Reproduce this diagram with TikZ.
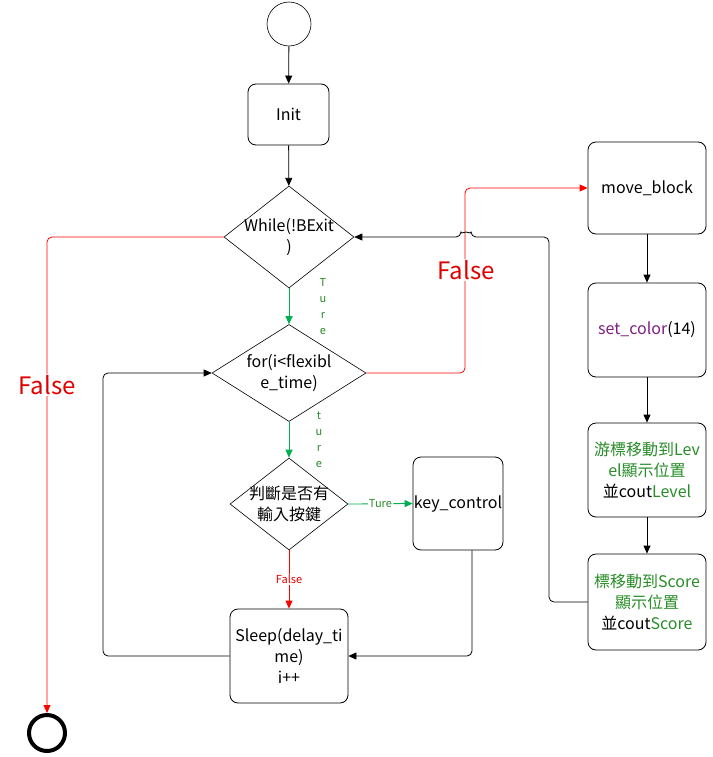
\documentclass[tikz,border=0pt]{standalone}
\usepackage{fontspec}
\setmainfont{Noto Sans CJK TC}
\usetikzlibrary{shapes.geometric,arrows.meta,calc}
\definecolor{lgreen}{RGB}{0,176,80}
\definecolor{tgreen}{RGB}{40,140,40}
\definecolor{lred}{RGB}{255,0,0}
\definecolor{tred}{RGB}{225,0,0}
\definecolor{tpurple}{RGB}{128,30,128}
\begin{document}
\begin{tikzpicture}[x=1pt,y=1pt,
  every node/.style={font=\fontsize{16}{21}\selectfont},
  box/.style={draw, rounded corners=8pt, line width=0.8pt, inner sep=0pt, align=center},
  dia/.style={draw, diamond, line width=0.6pt, inner sep=0pt},
  conn/.style={line width=0.8pt, rounded corners=5pt, -{Triangle[length=8pt,width=7pt]}},
  gconn/.style={conn, draw=lgreen},
  rconn/.style={conn, draw=lred},
  biglab/.style={fill=white, text=tred, font=\fontsize{24}{26}\selectfont, inner sep=1pt},
  smalllab/.style={fill=white, inner sep=1pt},
  vlab/.style={text=tgreen, align=center, font=\fontsize{11}{16}\selectfont, inner sep=0pt}
]
\useasboundingbox[fill=white] (0,0) rectangle (712,-757);

\node[draw, circle, line width=0.6pt, minimum size=44pt, inner sep=0pt] (start) at (289,-24) {};
\node[box, minimum width=81pt, minimum height=61pt] (init) at (288.5,-114.5) {Init};
\node[dia, minimum width=130pt, minimum height=102pt,
  label={[align=center, font=\fontsize{16}{21}\selectfont]center:While(!BExit\\)}] (while) at (289,-237) {};
\node[dia, minimum width=154pt, minimum height=97pt,
  label={[align=center, font=\fontsize{16}{21}\selectfont]center:for(i<flexibl\\e\_time)}] (for) at (289,-373) {};
\node[dia, minimum width=118pt, minimum height=92pt,
  label={[align=center, font=\fontsize{16}{21}\selectfont]center:判斷是否有\\輸入按鍵}] (judge) at (289,-504) {};
\node[box, minimum width=90pt, minimum height=93pt] (key) at (458,-503.5) {key\_control};
\node[box, minimum width=118pt, minimum height=94pt] (sleep) at (289,-656) {Sleep(delay\_ti\\me)\\i++};
\node[draw, circle, line width=4pt, minimum size=36pt, inner sep=0pt] (endc) at (47,-733) {};

\node[box, minimum width=118pt, minimum height=92pt] (move) at (647,-188) {move\_block};
\node[box, minimum width=118pt, minimum height=94pt] (setc) at (647,-330) {\textcolor{tpurple}{set\_color}(14)};
\node[box, minimum width=118pt, minimum height=94pt] (level) at (647,-470)
  {\textcolor{tgreen}{游標移動到Lev}\\\textcolor{tgreen}{el顯示位置}\\並cout\textcolor{tgreen}{Level}};
\node[box, minimum width=118pt, minimum height=96pt] (score) at (647,-602)
  {\textcolor{tgreen}{標移動到Score}\\\textcolor{tgreen}{顯示位置}\\並cout\textcolor{tgreen}{Score}};

\coordinate (bk) at (549,-237);
\coordinate (fx) at (465,-188);
\coordinate (lp) at (103,-656);

% main flow
\draw[conn] (start) -- (init);
\draw[conn] (init) -- (while);
\draw[gconn] (while.south) -- (for.north);
\draw[gconn] (for.south) -- (judge.north);
\draw[gconn] (judge.east) -- node[smalllab, text=tgreen, font=\fontsize{11}{13}\selectfont] (lt1) {Ture} (key.west);
\draw[rconn] (judge.south) -- node[smalllab, text=tred, font=\fontsize{11}{13}\selectfont, pos=0.5] (lf1) {False} (sleep.north);
\draw[conn] ([xshift=14pt]key.south) |- (sleep.east);
\draw[conn] (sleep.west) -- (lp) |- (for.west);

% exit
\draw[rconn] (while.west) -| (endc.north);
\node[biglab] (lf2) at (47,-385) {False};

% for false branch
\draw[rconn] (for.east) -| (fx) -- (move.west);
\node[biglab] (lf3) at (466,-270) {False};

% back to while with hop
\draw[conn] (score.west) -| (bk) -- (471,-237) arc[start angle=0, end angle=180, radius=5] -- (while.east);

% right column
\draw[conn] (move) -- (setc);
\draw[conn] (setc) -- (level);
\draw[conn] (level) -- (score);

% vertical labels
\node[vlab] (lt2) at (323,-307) {T\\u\\r\\e};
\node[vlab] (lt3) at (319,-440) {t\\u\\r\\e};
\end{tikzpicture}
\end{document}
